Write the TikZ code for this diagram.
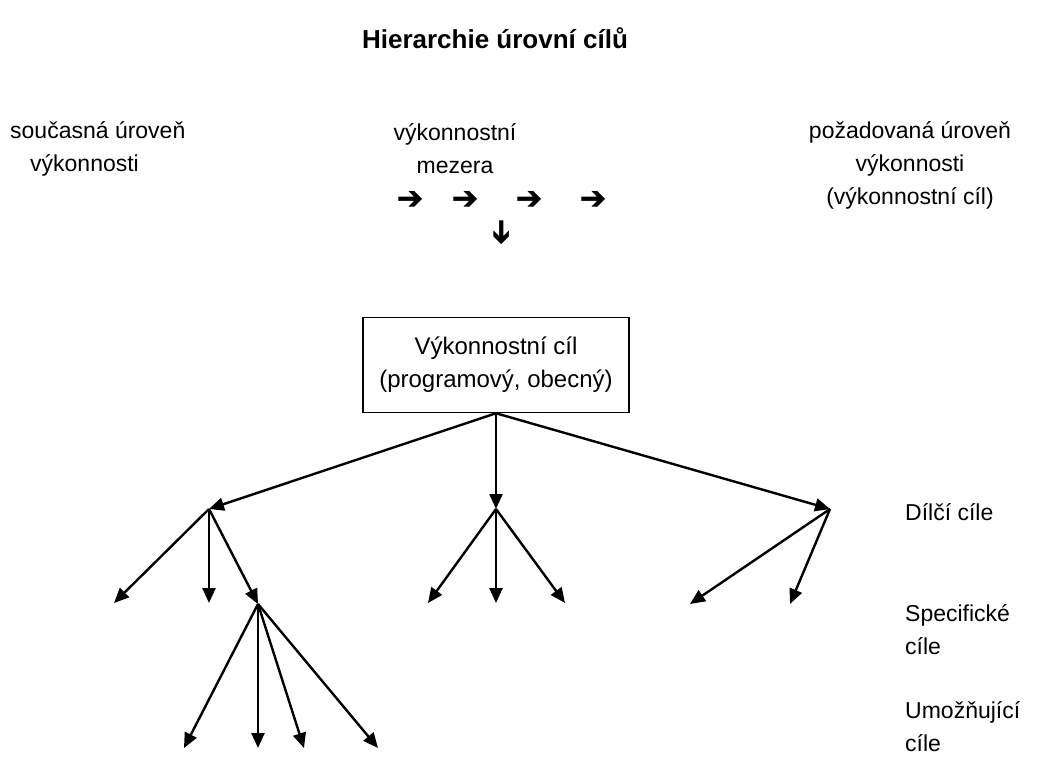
\documentclass[tikz,border=0pt]{standalone}
\usepackage{fontspec}
\setmainfont{Liberation Sans}
\newfontfamily\dejavu[FakeBold=2]{DejaVu Sans}
\usetikzlibrary{arrows.meta, positioning}

\begin{document}
\begin{tikzpicture}[
    x=1pt, y=-1pt,
    txt/.style={font=\fontsize{23}{33}\selectfont, inner sep=0pt},
    goal/.style={draw, line width=1.5pt, minimum width=266pt, minimum height=95pt, align=center, font=\fontsize{24}{33}\selectfont},
    gapsym/.style={font=\dejavu\fontsize{31}{31}\selectfont, inner sep=0pt},
    arrow/.style={draw, line width=2.4pt, -{Triangle[length=15pt,width=13pt]}}
]
    \useasboundingbox (0,0) rectangle (1047,758);

    % Title
    \node[font=\bfseries\fontsize{26}{30}\selectfont] (title) at (495,38) {Hierarchie úrovní cílů};

    % Levels of performance
    \node[txt, align=left, anchor=west] (current) at (10,149) {současná úroveň\\\hspace*{20pt}výkonnosti};
    \node[txt, align=center] (gap) at (455,149) {výkonnostní\\mezera};
    \node[txt, align=center] (target) at (910,165) {požadovaná úroveň\\výkonnosti\\(výkonnostní cíl)};

    % Gap arrows
    \node[gapsym] (g1) at (410,200) {➔};
    \node[gapsym] (g2) at (465,200) {➔};
    \node[gapsym] (g3) at (529,200) {➔};
    \node[gapsym] (g4) at (593,200) {➔};
    \node[gapsym, rotate=-90] (gdown) at (500,232) {➔};

    % Performance goal
    \node[goal] (goal) at (496,365) {Výkonnostní cíl\\(programový, obecný)};

    % Sub-goals
    \coordinate (sub1) at (209,509);
    \coordinate (sub2) at (496,509);
    \coordinate (sub3) at (830,509);
    \draw[arrow] (goal.south) -- (sub1);
    \draw[arrow] (goal.south) -- (sub2);
    \draw[arrow] (goal.south) -- (sub3);

    % Specific goals
    \coordinate (spec1) at (114,603);
    \coordinate (spec2) at (209,603);
    \coordinate (spec3) at (258,604);
    \coordinate (spec4) at (428,603);
    \coordinate (spec5) at (496,603);
    \coordinate (spec6) at (565,603);
    \coordinate (spec7) at (690,604);
    \coordinate (spec8) at (790,604);
    \draw[arrow] (sub1) -- (spec1);
    \draw[arrow] (sub1) -- (spec2);
    \draw[arrow] (sub1) -- (spec3);
    \draw[arrow] (sub2) -- (spec4);
    \draw[arrow] (sub2) -- (spec5);
    \draw[arrow] (sub2) -- (spec6);
    \draw[arrow] (sub3) -- (spec7);
    \draw[arrow] (sub3) -- (spec8);

    % Enabling goals
    \coordinate (enab1) at (184,748);
    \coordinate (enab2) at (258,748);
    \coordinate (enab3) at (304,748);
    \coordinate (enab4) at (378,748);
    \draw[arrow] (spec3) -- (enab1);
    \draw[arrow] (spec3) -- (enab2);
    \draw[arrow] (spec3) -- (enab3);
    \draw[arrow] (spec3) -- (enab4);

    % Level labels
    \node[txt, anchor=west] (lsub) at (905,512) {Dílčí cíle};
    \node[txt, align=left, anchor=west] (lspec) at (905,630) {Specifické\\cíle};
    \node[txt, align=left, anchor=west] (lenab) at (905,727) {Umožňující\\cíle};

\end{tikzpicture}
\end{document}
